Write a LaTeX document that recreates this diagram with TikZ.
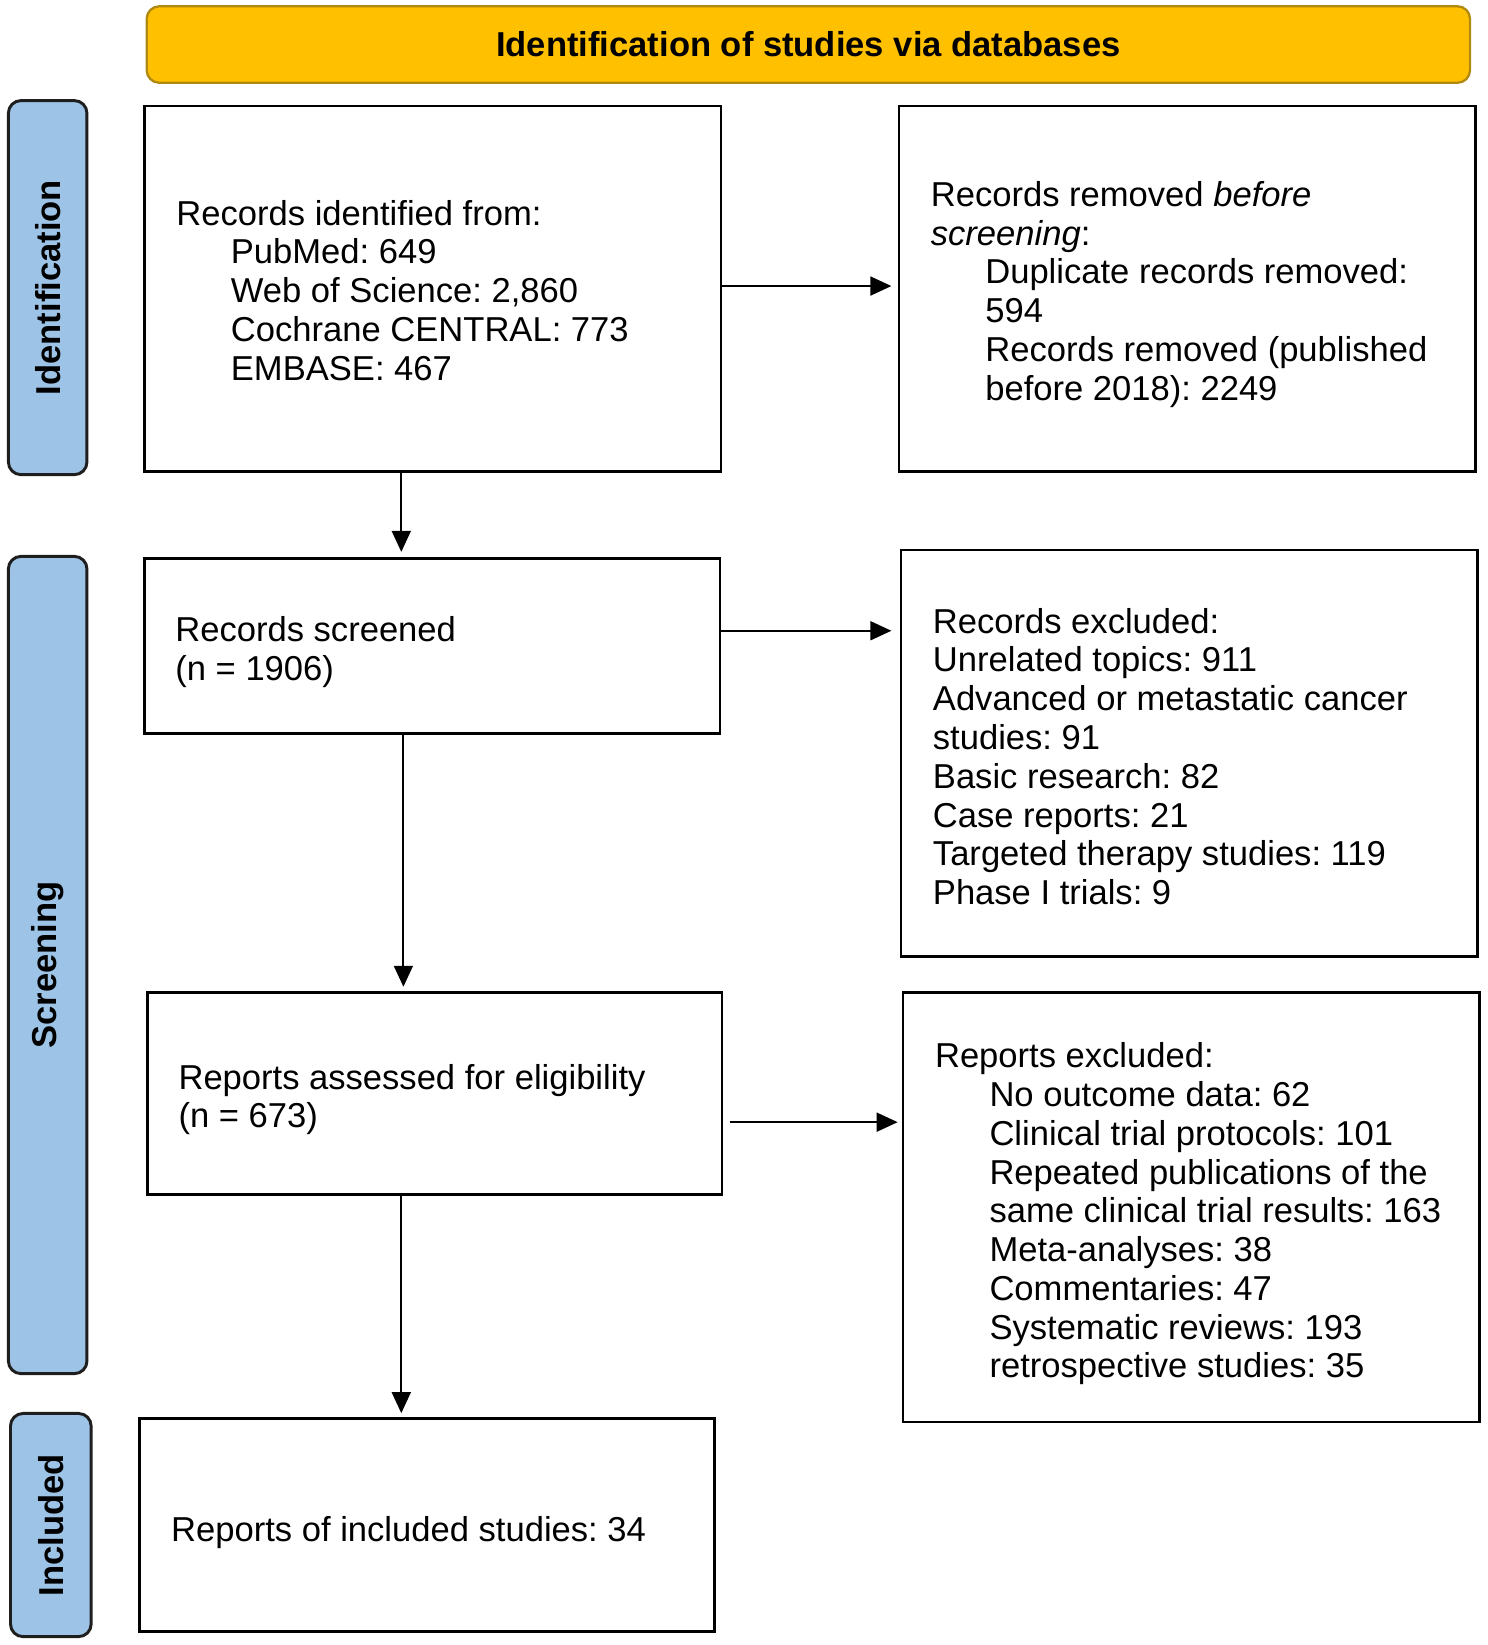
\documentclass[tikz,border=0pt]{standalone}
\usepackage{fontspec}
\setmainfont{Liberation Sans}
\usetikzlibrary{arrows.meta}
\definecolor{hdrfill}{HTML}{FFC000}
\definecolor{hdrline}{HTML}{B08A10}
\definecolor{sidefill}{HTML}{9DC3E6}
\definecolor{sideline}{HTML}{1E1E1E}
\frenchspacing
\begin{document}
\frenchspacing
\begin{tikzpicture}[x=0.5pt,y=-0.5pt,
  every node/.style={font=\fontsize{16.5pt}{18.5pt}\selectfont},
  box/.style={draw=black,line width=1.25pt,minimum width=275pt,inner sep=0pt},
  txt/.style={anchor=west,align=left,inner sep=0pt},
  side/.style={draw=sideline,fill=sidefill,line width=1.4pt,rounded corners=6pt,minimum width=37.5pt,inner sep=0pt},
  sidetxt/.style={rotate=90,font=\fontsize{16.5pt}{18.5pt}\selectfont\bfseries,inner sep=0pt},
  arr/.style={line width=1pt,-{Triangle[length=10pt,width=9pt]}}
]
\useasboundingbox (0,0) rectangle (1420,1570);
\def\ind{\hspace*{26pt}}
% header
\node[draw=hdrline,fill=hdrfill,line width=1.1pt,rounded corners=6pt,minimum width=631.5pt,minimum height=36.5pt,inner sep=0pt,font=\fontsize{16.5pt}{18.5pt}\selectfont\bfseries] (hdr) at (771.5,42.5) {Identification of studies via databases};
% side labels
\node[side,minimum height=178.5pt] (sid) at (45.5,274.5) {};
\node[sidetxt] (sidt) at (sid.center) {Identification};
\node[side,minimum height=390pt] (sscr) at (45.5,921) {};
\node[sidetxt] (sscrt) at (sscr.center) {Screening};
\node[side,minimum width=38.5pt,minimum height=106.5pt] (sinc) at (48.5,1455.5) {};
\node[sidetxt] (sinct) at (sinc.center) {Included};
% boxes
\node[box,minimum height=174.5pt] (b1) at (413,275.5) {};
\node[box,minimum height=174.5pt] (b2) at (1133,275.5) {};
\node[box,minimum width=274.5pt,minimum height=83.5pt] (b3) at (412.5,616.5) {};
\node[box,minimum height=194pt] (b4) at (1135,719) {};
\node[box,minimum width=274pt,minimum height=96.5pt] (b5) at (415,1043.5) {};
\node[box,minimum height=205pt] (b6) at (1137,1152) {};
\node[box,minimum width=274.5pt,minimum height=101.5pt] (b7) at (407.5,1455.5) {};
% texts
\node[txt] (t1) at (168,277) {Records identified from:\\ \ind PubMed: 649\\ \ind Web of Science: 2,860\\ \ind Cochrane CENTRAL: 773\\ \ind EMBASE: 467};
\node[txt] (t2) at (888,281) {Records removed \textit{before}\\ \textit{screening}:\\ \ind Duplicate records removed:\\ \ind 594\\ \ind Records removed (published\\ \ind before 2018): 2249};
\node[txt] (t3) at (167,622.5) {Records screened\\ (n = 1906)};
\node[txt] (t4) at (890,722) {Records excluded:\\ Unrelated topics: 911\\ Advanced or metastatic cancer\\ studies: 91\\ Basic research: 82\\ Case reports: 21\\ Targeted therapy studies: 119\\ Phase I trials: 9};
\node[txt] (t5) at (170,1049.5) {Reports assessed for eligibility\\ (n = 673)};
\node[txt] (t6) at (892,1158.5) {Reports excluded:\\ \ind No outcome data: 62\\ \ind Clinical trial protocols: 101\\ \ind Repeated publications of the\\ \ind same clinical trial results: 163\\ \ind Meta-analyses: 38\\ \ind Commentaries: 47\\ \ind Systematic reviews: 193\\ \ind retrospective studies: 35};
\node[txt] (t7) at (163,1462.5) {Reports of included studies: 34};
% arrow guide coordinates
\coordinate (h1) at (0,273);
\coordinate (h2) at (0,602);
\coordinate (h3) at (0,1071);
\coordinate (v1) at (383,0);
\coordinate (v2) at (385,0);
\coordinate (v3) at (383,0);
% arrows
\draw[arr,shorten >=3pt] (b1.east |- h1) -- (b2.west |- h1);
\draw[arr,shorten >=4pt] (b3.east |- h2) -- (b4.west |- h2);
\draw[arr,shorten <=3pt,shorten >=2pt] (b5.east |- h3) -- (b6.west |- h3);
\draw[arr,shorten >=2.5pt] (b1.south -| v1) -- (b3.north -| v1);
\draw[arr,shorten >=2pt] (b3.south -| v2) -- (b5.north -| v2);
\draw[arr,shorten >=2pt] (b5.south -| v3) -- (b7.north -| v3);
\end{tikzpicture}
\end{document}
